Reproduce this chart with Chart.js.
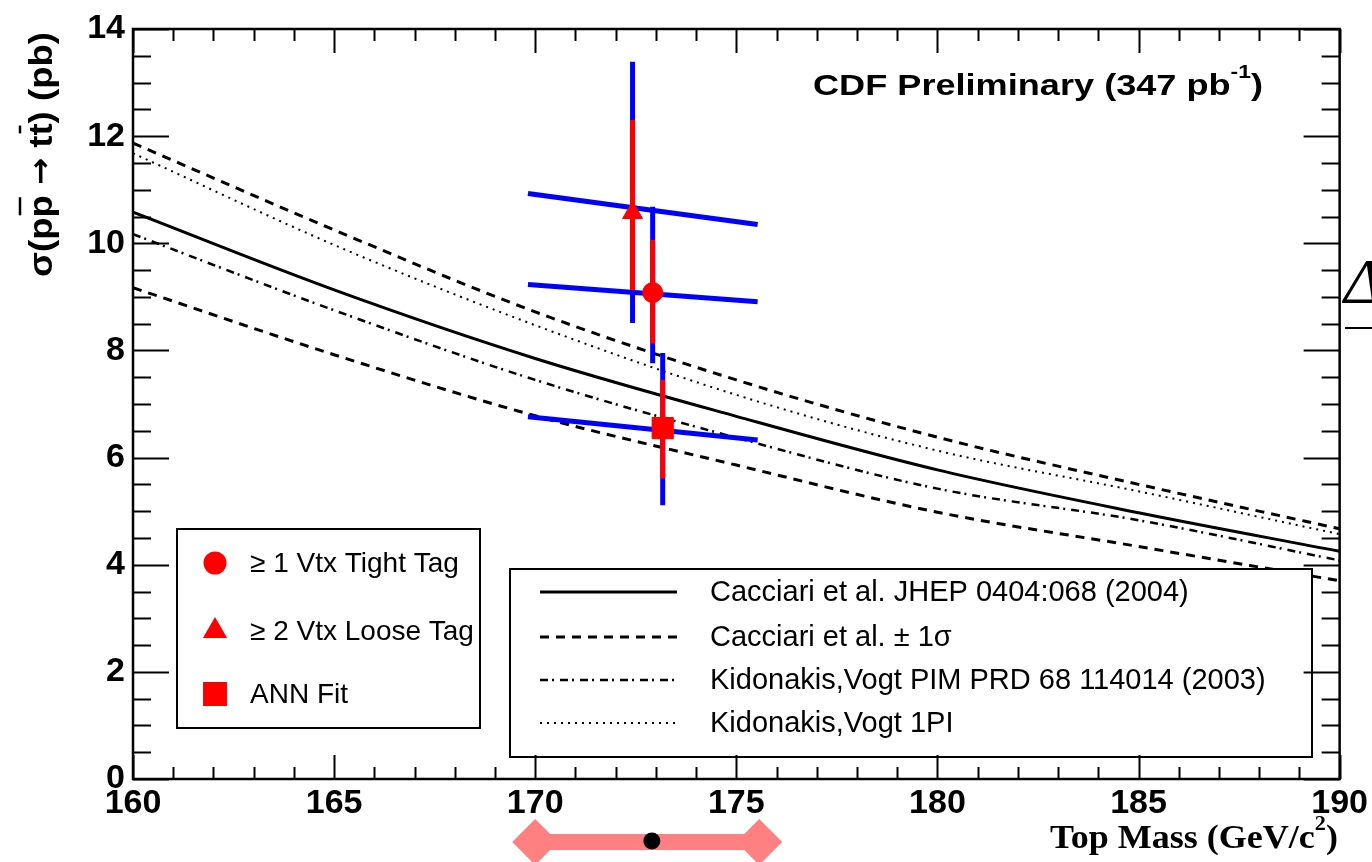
<!DOCTYPE html>
<html>
<head>
<meta charset="utf-8">
<script src="https://cdn.jsdelivr.net/npm/chart.js@4.4.1/dist/chart.umd.min.js"></script>
<style>
html,body{margin:0;padding:0;background:#fff;}
</style>
</head>
<body>
<canvas id="chart" width="1372" height="862"></canvas>
<script>
// theory curves, sigma(ttbar) in pb vs top mass
const masses = [160, 165, 170, 175, 180, 185, 190];
const cacciari = [10.58, 9.13, 7.85, 6.77, 5.77, 4.97, 4.25];
const cacciariUp = [11.87, 10.25, 8.72, 7.45, 6.38, 5.50, 4.67];
const cacciariDown = [9.17, 7.92, 6.78, 5.86, 4.98, 4.34, 3.70];
const kidonakisPIM = [10.17, 8.75, 7.45, 6.37, 5.42, 4.83, 4.08];
const kidonakis1PI = [11.68, 9.97, 8.47, 7.17, 6.13, 5.37, 4.57];
const theoryNames = ["Cacciari et al. JHEP 0404:068 (2004)", "Cacciari et al. \u00b1 1\u03c3",
  "Kidonakis,Vogt PIM PRD 68 114014 (2003)", "Kidonakis,Vogt 1PI"];

// CDF measurements
const measNames = ["\u2265 1 Vtx Tight Tag", "\u2265 2 Vtx Loose Tag", "ANN Fit"];
const measMass = [172.92, 172.42, 173.17];
const measValue = [9.08, 10.57, 6.55];
const statLow = [8.13, 9.13, 5.61];
const statHigh = [10.06, 12.30, 7.45];
const totLow = [7.76, 8.51, 5.11];
const totHigh = [10.68, 13.39, 7.95];
// dependence of each measurement on the assumed top mass
const slopeMass = [169.82, 175.53];
const slopeValues = [[9.23, 8.91], [10.93, 10.35], [6.76, 6.33]];
const markerStyles = ["circle", "triangle", "rect"];
const markerSizes = [10, 11.5, 15];

// top mass band under the axis: low, central, high
const massBand = [170.0, 172.9, 175.57];

const RED = "#ff0000", BLUE = "#0000ff", PINK = "#ff8080";
const SANS = "'Liberation Sans', Arial, sans-serif";
const SERIF = "'Liberation Serif', 'Times New Roman', serif";

function pts(xs, ys){ return xs.map((x,i) => ({x:x, y:ys[i]})); }

const lineBase = {showLine:true, pointRadius:0, fill:false, cubicInterpolationMode:"monotone", borderCapStyle:"butt"};

const theoryStyles = [
  {vals:cacciari, dash:[], width:3},
  {vals:cacciariUp, dash:[9,7], width:3},
  {vals:cacciariDown, dash:[9,7], width:3},
  {vals:kidonakisPIM, dash:[8,4,2,6], width:2.5},
  {vals:kidonakis1PI, dash:[2,5], width:2}
];

let datasets = [];
theoryStyles.forEach(t => {
  datasets.push(Object.assign({}, lineBase, {data:pts(masses, t.vals), borderColor:"#000",
    borderWidth:t.width, borderDash:t.dash, order:10}));
});
slopeValues.forEach(v => {
  datasets.push(Object.assign({}, lineBase, {data:pts(slopeMass, v), borderColor:BLUE, borderWidth:5,
    cubicInterpolationMode:"default", order:6}));
});
measMass.forEach((m,i) => {
  datasets.push(Object.assign({}, lineBase, {data:[{x:m,y:totLow[i]},{x:m,y:totHigh[i]}], borderColor:BLUE, borderWidth:5, order:5}));
});
measMass.forEach((m,i) => {
  datasets.push(Object.assign({}, lineBase, {data:[{x:m,y:statLow[i]},{x:m,y:statHigh[i]}], borderColor:RED, borderWidth:5, order:4}));
});
measMass.forEach((m,i) => {
  datasets.push({data:[{x:m,y:measValue[i]}], pointStyle:markerStyles[i], pointRadius:markerSizes[i],
    backgroundColor:RED, borderColor:RED, borderWidth:1, showLine:false, order:1});
});

function tickLines(ctx, a){
  const xs = a.x, ys = a.y;
  ctx.strokeStyle = "#000";
  ctx.lineWidth = 2;
  ctx.beginPath();
  for (let v = xs.min; v <= xs.max + 1e-6; v += 1){
    const px = Math.round(xs.getPixelForValue(v)) + 0.5;
    const len = (Math.round(v) % 5 === 0) ? 24 : 12;
    ctx.moveTo(px, a.bottom); ctx.lineTo(px, a.bottom - len);
    ctx.moveTo(px, a.top); ctx.lineTo(px, a.top + len);
  }
  for (let v = ys.min; v <= ys.max + 1e-6; v += 0.5){
    const py = Math.round(ys.getPixelForValue(v)) + 0.5;
    const len = (Math.abs(v % 2) < 1e-6) ? 36 : 18;
    ctx.moveTo(a.left, py); ctx.lineTo(a.left + len, py);
    ctx.moveTo(a.right, py); ctx.lineTo(a.right - len, py);
  }
  ctx.stroke();
  ctx.lineWidth = 2.5;
  ctx.strokeRect(a.left, a.top, a.right - a.left, a.bottom - a.top);
}

function drawLegends(ctx){
  ctx.save();
  ctx.fillStyle = "#fff";
  ctx.strokeStyle = "#000";
  ctx.lineWidth = 2;
  // markers legend
  ctx.fillRect(177, 529, 303, 199);
  ctx.strokeRect(177, 529, 303, 199);
  const rows1 = [563, 631, 694];
  ctx.font = "28px " + SANS;
  ctx.textBaseline = "middle";
  rows1.forEach((y,i) => {
    ctx.fillStyle = RED;
    ctx.strokeStyle = RED;
    Chart.helpers.drawPoint(ctx, {pointStyle:markerStyles[i], radius:markerSizes[i] + 0.5, borderWidth:1}, 215, y);
    ctx.fillStyle = "#000";
    ctx.fillText(measNames[i], 250, y + 1);
  });
  // theory legend
  ctx.fillStyle = "#fff";
  ctx.strokeStyle = "#000";
  ctx.lineWidth = 2;
  ctx.fillRect(510, 569, 802, 188);
  ctx.strokeRect(510, 569, 802, 188);
  const rows2 = [592, 637, 680, 723];
  const sample = [theoryStyles[0], theoryStyles[1], theoryStyles[3], theoryStyles[4]];
  ctx.font = "29px " + SANS;
  rows2.forEach((y,i) => {
    ctx.strokeStyle = "#000";
    ctx.lineWidth = sample[i].width;
    ctx.setLineDash(sample[i].dash);
    ctx.beginPath(); ctx.moveTo(540, y); ctx.lineTo(677, y); ctx.stroke();
    ctx.setLineDash([]);
    ctx.fillStyle = "#000";
    ctx.fillText(theoryNames[i], 710, y + 1);
  });
  ctx.restore();
}

// draws a run of [text, font, dy, overline] pieces with a horizontal stretch
function drawRun(ctx, pieces, x, y, stretch){
  ctx.save();
  ctx.translate(x, y);
  ctx.scale(stretch, 1);
  let cx = 0;
  pieces.forEach(p => {
    ctx.font = p[1];
    const w = ctx.measureText(p[0]).width;
    ctx.fillText(p[0], cx, p[2] || 0);
    if (p[3]){
      ctx.fillRect(cx + 2, p[3] - 1.25, w - 4, 2.5);
    }
    cx += w;
  });
  ctx.restore();
  return cx * stretch;
}

function runWidth(ctx, pieces){
  let w = 0;
  pieces.forEach(p => { ctx.font = p[1]; w += ctx.measureText(p[0]).width; });
  return w;
}

function drawTexts(ctx, chart){
  ctx.save();
  ctx.fillStyle = "#000";
  ctx.textBaseline = "alphabetic";
  // header
  const head = [["CDF Preliminary (347 pb", "bold 30px " + SANS, 0], ["-1", "bold 19px " + SANS, -17], [")", "bold 30px " + SANS, 0]];
  drawRun(ctx, head, 813, 95, 450 / runWidth(ctx, head));

  // x title
  const xt = [["Top Mass (GeV/c", "bold 34px " + SERIF, 0], ["2", "bold 21px " + SERIF, -18], [")", "bold 34px " + SERIF, 0]];
  const xw = runWidth(ctx, xt);
  drawRun(ctx, xt, 1338 - xw * 1.06, 848, 1.06);

  // y title with overlines on p-bar and t-bar
  ctx.save();
  ctx.translate(52, 277);
  ctx.rotate(-Math.PI / 2);
  const yf = "bold 34px " + SANS;
  const yt = [["\u03c3(p", yf, 0], ["p", yf, 0, -32], [" ", yf, 0], ["\u2192", "bold 30px 'DejaVu Sans', sans-serif", -2], [" t", yf, 0], ["t", yf, 0, -32], [") (pb)", yf, 0]];
  drawRun(ctx, yt, 0, 0, 245 / runWidth(ctx, yt));
  ctx.restore();

  // slide remnants at right edge
  ctx.font = "italic 64px " + SERIF;
  ctx.fillText("\u0394", 1344, 303);
  ctx.fillRect(1345, 327, 27, 2);
  ctx.restore();
}

function drawBand(ctx, chart){
  const xs = chart.scales.x;
  const xl = xs.getPixelForValue(massBand[0]);
  const xc = xs.getPixelForValue(massBand[1]);
  const xh = xs.getPixelForValue(massBand[2]);
  const y = 842;
  ctx.save();
  ctx.fillStyle = PINK;
  ctx.fillRect(xl, y - 8, xh - xl, 16);
  [xl, xh].forEach(x => {
    ctx.beginPath();
    ctx.moveTo(x - 23, y); ctx.lineTo(x, y - 23); ctx.lineTo(x + 23, y); ctx.lineTo(x, y + 23);
    ctx.closePath(); ctx.fill();
  });
  ctx.fillStyle = "#000";
  ctx.beginPath(); ctx.arc(xc, y - 1, 8.5, 0, Math.PI * 2); ctx.fill();
  ctx.restore();
}

const decorations = {
  id: "decorations",
  afterDatasetsDraw(chart){
    const ctx = chart.ctx;
    drawLegends(ctx);
    tickLines(ctx, {x:chart.scales.x, y:chart.scales.y, left:chart.chartArea.left, right:chart.chartArea.right,
      top:chart.chartArea.top, bottom:chart.chartArea.bottom});
  },
  afterDraw(chart){
    drawTexts(chart.ctx, chart);
    drawBand(chart.ctx, chart);
  }
};

const tickFont = {family:SANS, weight:"bold", size:34};

const chart = new Chart(document.getElementById("chart"), {
  type: "scatter",
  data: {datasets: datasets},
  options: {
    responsive: false,
    animation: false,
    layout: {padding: {top:29, right:31, left:0, bottom:0}},
    plugins: {legend: {display:false}, tooltip: {enabled:false}},
    scales: {
      x: {
        type: "linear", min: 160, max: 190,
        grid: {display:false, drawTicks:false}, border: {display:false},
        ticks: {stepSize:5, autoSkip:false, maxRotation:0, color:"#000", font:tickFont, padding:4},
        afterFit(s){ s.height = 83; }
      },
      y: {
        type: "linear", min: 0, max: 14,
        grid: {display:false, drawTicks:false}, border: {display:false},
        ticks: {stepSize:2, autoSkip:false, color:"#000", font:tickFont, padding:8},
        afterFit(s){ s.width = 133; }
      }
    }
  },
  plugins: [decorations]
});
</script>
</body>
</html>
